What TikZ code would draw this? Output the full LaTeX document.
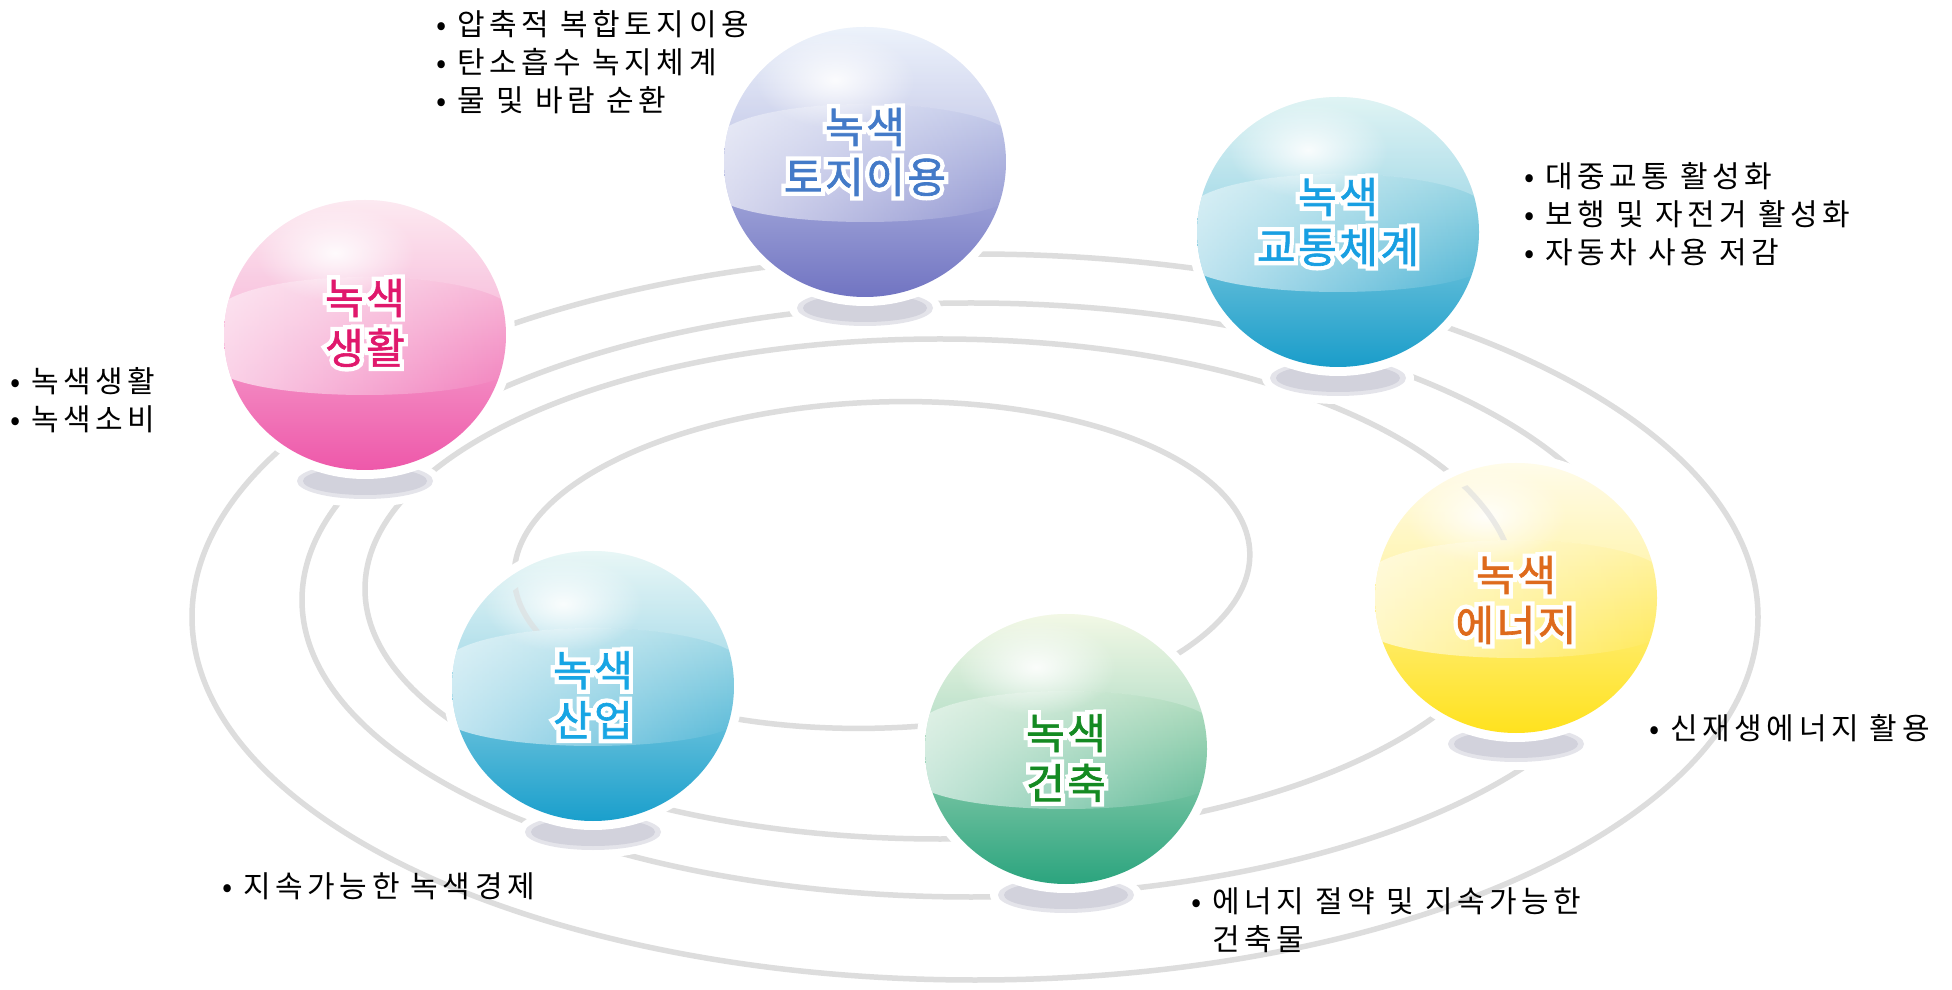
\documentclass[tikz,border=0pt]{standalone}
\usepackage{fontspec}
\setmainfont{Noto Sans CJK KR}
\newfontfamily\notefont[LetterSpace=15]{Noto Sans CJK KR}
\newfontfamily\ballfont[LetterSpace=6, FakeBold=1.5]{Noto Sans CJK KR}
\newfontfamily\haloballfont[LetterSpace=6, FakeBold=22]{Noto Sans CJK KR}
\usetikzlibrary{fadings}

\definecolor{ringgray}{HTML}{DDDDDD}
\definecolor{shadowgray}{HTML}{D2D2DC}
\definecolor{lifetop}{HTML}{FCE2EC}
\definecolor{lifemid}{HTML}{F3A2C0}
\definecolor{lifebot}{HTML}{EE58AA}
\definecolor{lifeink}{HTML}{E0186C}
\definecolor{landtop}{HTML}{E6EEFA}
\definecolor{landmid}{HTML}{9AB5E6}
\definecolor{landbot}{HTML}{7174C2}
\definecolor{landink}{HTML}{437AC8}
\definecolor{traffictop}{HTML}{D4F0F0}
\definecolor{trafficmid}{HTML}{7CC6D8}
\definecolor{trafficbot}{HTML}{1A9DCA}
\definecolor{trafficink}{HTML}{189FE2}
\definecolor{energytop}{HTML}{FFFBE2}
\definecolor{energymid}{HTML}{FFF2A0}
\definecolor{energybot}{HTML}{FFE21E}
\definecolor{energyink}{HTML}{DE6A1C}
\definecolor{buildingtop}{HTML}{EEF6DC}
\definecolor{buildingmid}{HTML}{BCD98A}
\definecolor{buildingbot}{HTML}{2BA47E}
\definecolor{buildingink}{HTML}{148A22}
\definecolor{industrytop}{HTML}{E0F4F3}
\definecolor{industrymid}{HTML}{8ACADC}
\definecolor{industrybot}{HTML}{1A9FCC}
\definecolor{industryink}{HTML}{17A5E4}

\tikzfading[name=leftlight, left color=transparent!35, right color=transparent!100]
\tikzfading[name=softspot, inner color=transparent!10, outer color=transparent!100]

\tikzset{
  ring/.style={draw=ringgray, line width=5.5pt},
  note/.style={anchor=west, align=left, inner sep=0pt, font=\notefont\fontsize{30}{38}\selectfont},
  balllabel/.style={align=center, inner sep=0pt, font=\ballfont\fontsize{42}{50}\selectfont},
  ballhalo/.style={balllabel, text=white, font=\haloballfont\fontsize{42}{50}\selectfont}
}

% glass ball with its shadow: centre x, centre y, colour set
\newcommand{\glassball}[3]{%
  \fill[white] (#1,#2-146) ellipse (76 and 26);
  \fill[shadowgray!60] (#1,#2-146) ellipse (68 and 18);
  \fill[shadowgray] (#1,#2-146) ellipse (62 and 14);
  \fill[white] (#1,#2) ellipse (150 and 144);
  \begin{scope}
    \clip (#1,#2) ellipse (141 and 135);
    \shade[top color=#3top, middle color=#3mid, bottom color=#3bot]
      (#1-141,#2-135) rectangle (#1+141,#2+135);
    \fill[white, opacity=.28] (#1-150,#2+20)
      arc[start angle=180, end angle=0, x radius=150, y radius=38]
      -- (#1+150,#2+140) -- (#1-150,#2+140) -- cycle;
    \fill[white, path fading=leftlight] (#1-150,#2+20)
      arc[start angle=180, end angle=0, x radius=150, y radius=38]
      -- (#1+150,#2-30)
      arc[start angle=0, end angle=-180, x radius=150, y radius=30] -- cycle;
    \fill[white, path fading=softspot] (#1-30,#2+82) ellipse (80 and 48);
  \end{scope}
}

\begin{document}
\begin{tikzpicture}[x=1pt, y=1pt]
  \useasboundingbox (0,0) rectangle (1952,989);
  \fill[white] (0,0) rectangle (1952,989);

  % orbits
  \foreach \cx/\cy/\rx/\ry/\rot in {975/372/783/363/0, 971/389/669/297/0, 940/400/575/250/0, 882/424/368/163/2}
    \draw[ring, rotate around={\rot:(\cx,\cy)}] (\cx,\cy) ellipse[x radius=\rx, y radius=\ry];

  \foreach \nm/\cx/\cy/\dy/\lb in {life/365/654/12/생활, land/865/827/10/토지이용,
      traffic/1338/757/10/교통체계, energy/1516/391/-2/에너지,
      building/1066/240/-9/건축, industry/593/303/-9/산업} {
    \glassball{\cx}{\cy}{\nm}
    \node[ballhalo] (halo-\nm) at (\cx,\cy+\dy) {녹색\\\lb};
    \node[balllabel, text=\nm ink] (lbl-\nm) at (\cx,\cy+\dy) {녹색\\\lb};
  }

  % orbits seen through the clear tops
  \begin{scope}
    \clip (593,303) ellipse (128 and 122);
    \clip (443,323) arc[start angle=180, end angle=0, x radius=150, y radius=38]
      -- (743,443) -- (443,443) -- cycle;
    \draw[ring, opacity=.6, rotate around={2:(882,424)}] (882,424) ellipse (368 and 163);
  \end{scope}
  \begin{scope}
    \clip (1516,391) ellipse (128 and 122);
    \clip (1366,411) arc[start angle=180, end angle=0, x radius=150, y radius=38]
      -- (1666,531) -- (1366,531) -- cycle;
    \draw[ring, opacity=.6] (940,400) ellipse (575 and 250);
  \end{scope}

  \node[note] (note-land) at (436,927) {• 압축적 복합토지이용\\• 탄소흡수 녹지체계\\• 물 및 바람 순환};
  \node[note] (note-traffic) at (1524,775) {• 대중교통 활성화\\• 보행 및 자전거 활성화\\• 자동차 사용 저감};
  \node[note] (note-life) at (10,589) {• 녹색생활\\• 녹색소비};
  \node[note] (note-energy) at (1649,261) {• 신재생에너지 활용};
  \node[note] (note-industry) at (222,103) {• 지속가능한 녹색경제};
  \node[note] (note-building) at (1191,69) {• 에너지 절약 및 지속가능한\\\phantom{• }건축물};
\end{tikzpicture}
\end{document}
